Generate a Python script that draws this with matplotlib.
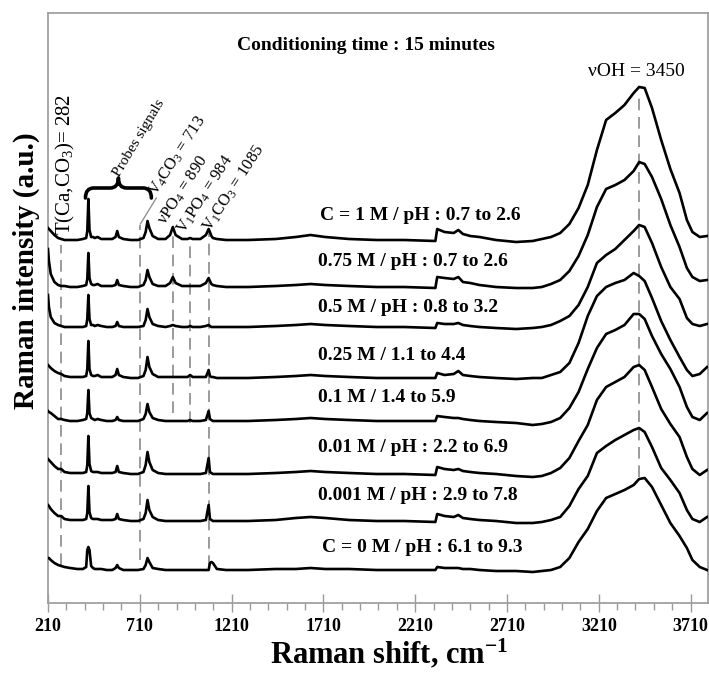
import matplotlib
matplotlib.use("Agg")
import matplotlib.pyplot as plt
from matplotlib.path import Path
from matplotlib.patches import PathPatch
from matplotlib.ticker import FixedLocator
import numpy as np

plt.rcParams['font.family'] = ['Liberation Serif', 'DejaVu Serif']
plt.rcParams['mathtext.fontset'] = 'custom'
plt.rcParams['mathtext.rm'] = 'Liberation Serif'
plt.rcParams['mathtext.it'] = 'Liberation Serif:italic'
plt.rcParams['mathtext.bf'] = 'Liberation Serif:bold'

# ---------------- data ----------------
# Raman shift sampling points (cm-1)
X_LOW = [210, 215, 225, 245, 265, 282, 300, 330, 370, 400, 418, 424, 430, 436, 445,
         455, 465, 480, 500, 530, 560, 578, 587, 596, 620, 660, 700, 730, 742, 752,
         762, 780, 810, 850, 875, 890, 905, 940, 970, 984, 998, 1040, 1070, 1085,
         1092, 1100, 1108, 1130, 1180]
X_MID = [1300, 1450, 1560, 1640, 1720, 1850, 2000, 2150, 2320, 2330, 2370, 2420,
         2445, 2470, 2510, 2560, 2650, 2760]
X_OH = [2850, 2900, 2950, 3000, 3050, 3100, 3150, 3200, 3250, 3300, 3350, 3400,
        3430, 3460, 3500, 3550, 3600, 3650, 3690, 3720, 3760, 3800]

labels = ["C = 1 M / pH : 0.7 to 2.6",
          "0.75 M / pH : 0.7 to 2.6",
          "0.5 M / pH : 0.8 to 3.2",
          "0.25 M / 1.1 to 4.4",
          "0.1 M / 1.4 to 5.9",
          "0.01 M / pH : 2.2 to 6.9",
          "0.001 M / pH : 2.9 to 7.8",
          "C = 0 M / pH : 6.1 to 9.3"]

# vertical stacking offsets of each spectrum (a.u.)
offsets = [363, 316, 276, 225, 182, 129, 82, 33]

# intensities relative to each spectrum's baseline (a.u.)
low_1 = [12, 11, 9, 5, 2, 1, 0, 0, 0, 1, 2, 9, 41, 10, 3, 3, 2, 3, 1, 1, 1, 3, 9, 3, 1, 0, 0, 2, 8, 19,
         12, 4, 1, 1, 5, 13, 5, 1, 1, 2, 1, 1, 5, 11, 8, 4, 2, 1, 0]
low_2 = [38, 26, 13, 5, 2, 1, 1, 0, 0, 1, 2, 8, 34, 9, 3, 2, 2, 3, 1, 1, 1, 2, 7, 2, 1, 0, 0, 2, 7, 17,
         10, 3, 1, 1, 4, 10, 4, 1, 1, 1, 1, 1, 4, 9, 6, 3, 2, 1, 0]
low_3 = [32, 20, 10, 4, 2, 1, 0, 0, 0, 0, 1, 8, 32, 8, 2, 2, 1, 2, 1, 0, 0, 1, 5, 1, 0, 0, 0, 1, 7, 18,
         10, 3, 1, 0, 1, 2, 1, 0, 0, 1, 0, 0, 1, 2, 1, 0, 0, 0, 0]
low_4 = [13, 12, 10, 7, 5, 4, 2, 1, 1, 1, 2, 9, 37, 9, 3, 2, 2, 3, 1, 1, 1, 3, 9, 3, 1, 0, 0, 2, 8, 21,
         11, 4, 1, 1, 1, 1, 1, 1, 1, 3, 1, 1, 1, 8, 2, 1, 1, 0, 0]
low_5 = [10, 9, 8, 5, 2, 2, 1, 0, 0, 1, 2, 8, 31, 8, 3, 2, 1, 2, 1, 0, 0, 1, 4, 1, 0, 0, 0, 2, 7, 17,
         9, 3, 1, 0, 0, 0, 0, 0, 0, 1, 0, 0, 1, 10, 2, 1, 0, 0, 0]
low_6 = [15, 14, 12, 8, 5, 5, 2, 1, 1, 1, 2, 9, 38, 10, 3, 2, 2, 2, 1, 1, 1, 2, 8, 2, 1, 0, 0, 2, 9, 22,
         12, 4, 1, 0, 0, 0, 0, 0, 0, 0, 0, 0, 1, 16, 2, 1, 0, 0, 0]
low_7 = [16, 15, 12, 8, 5, 5, 2, 1, 1, 1, 2, 8, 35, 9, 3, 2, 2, 2, 1, 1, 1, 2, 7, 2, 1, 0, 0, 2, 8, 21,
         11, 4, 1, 0, 0, 0, 0, 0, 0, 0, 0, 0, 1, 16, 2, 1, 0, 0, 0]
low_8 = [12, 12, 10, 7, 5, 4, 3, 2, 1, 1, 3, 20, 23, 20, 4, 2, 1, 1, 1, 0, 0, 2, 5, 2, 0, 0, 0, 1, 5, 12,
         8, 2, 1, 0, 0, 0, 0, 0, 0, 0, 0, 0, 0, 0, 7, 8, 7, 1, 0]

mid_1 = [0, 1, 3, 5, 3, 1, 0, 0, -1, 11, 8, 7, 10, 6, 4, 3, 0, -2]
mid_2 = [0, 1, 2, 3, 2, 1, 0, 0, -1, 10, 9, 8, 10, 5, 4, 2, 0, -1]
mid_3 = [0, 1, 2, 3, 2, 1, 0, 0, -1, 4, 3, 3, 4, 2, 1, 0, -1, -2]
mid_4 = [0, 1, 2, 3, 2, 1, 0, 0, 0, 5, 3, 4, 7, 3, 2, 1, 0, -1]
mid_5 = [0, 1, 2, 3, 2, 1, 0, 0, 0, 5, 4, 3, 3, 2, 1, 0, -1, -2]
mid_6 = [0, 1, 2, 3, 2, 1, 0, 0, -1, 7, 5, 4, 5, 3, 2, 1, 0, -2]
mid_7 = [0, 1, 3, 4, 3, 1, 0, 0, -1, 7, 5, 4, 6, 3, 2, 1, 0, -2]
mid_8 = [0, 1, 1, 2, 1, 1, 0, 0, 0, 3, 2, 2, 2, 1, 1, 0, -1, -1]

oh_1 = [-1, 1, 3, 7, 16, 32, 55, 90, 120, 127, 135, 147, 153, 152, 132, 100, 71, 47, 20, 8, 3, 4]
oh_2 = [-1, 0, 3, 7, 16, 31, 52, 80, 98, 102, 107, 116, 125, 123, 110, 88, 62, 40, 19, 10, 6, 7]
oh_3 = [-1, 0, 2, 6, 11, 22, 40, 64, 72, 78, 87, 96, 102, 100, 84, 60, 40, 28, 9, 3, 1, 3]
oh_4 = [0, 0, 3, 6, 15, 35, 62, 82, 91, 95, 98, 105, 102, 97, 80, 57, 38, 21, 8, 2, 4, 11]
oh_5 = [-4, -3, -1, 3, 13, 29, 52, 73, 87, 91, 96, 107, 107, 102, 85, 67, 52, 34, 14, 4, 1, 8]
oh_6 = [-3, -2, 1, 6, 16, 33, 49, 74, 87, 92, 97, 107, 109, 104, 87, 65, 50, 37, 17, 5, -1, 4]
oh_7 = [-2, -1, 1, 4, 15, 32, 45, 68, 75, 81, 86, 91, 93, 89, 74, 53, 41, 28, 11, 2, -1, 4]
oh_8 = [-2, -1, 0, 3, 12, 28, 41, 59, 72, 76, 80, 85, 91, 92, 83, 65, 47, 34, 22, 10, 3, 0]

low_parts = [low_1, low_2, low_3, low_4, low_5, low_6, low_7, low_8]
mid_parts = [mid_1, mid_2, mid_3, mid_4, mid_5, mid_6, mid_7, mid_8]
oh_parts = [oh_1, oh_2, oh_3, oh_4, oh_5, oh_6, oh_7, oh_8]

# band markers (cm-1) and the vertical extent of their dashed guide lines
band_x = [282, 713, 890, 984, 1085, 3428]
band_y0 = [38, 43, 190, 180, 36, 126]
band_y1 = [358, 378, 373, 360, 371, 511]

# ---------------- figure ----------------
fig = plt.figure(figsize=(7.09, 6.75), dpi=100)
ax = fig.add_axes([48 / 709, (675 - 603) / 675, (708 - 48) / 709, (603 - 13) / 675])

xs = np.array(X_LOW + X_MID + X_OH, dtype=float)
for off, lo, mi, oh in zip(offsets, low_parts, mid_parts, oh_parts):
    ys = off + np.array(lo + mi + oh, dtype=float)
    ax.plot(xs, ys, color='black', lw=1.9, solid_joinstyle='round', zorder=3)

for bx, y0, y1 in zip(band_x, band_y0, band_y1):
    ax.plot([bx, bx], [y0, y1], color='#8a8a8a', lw=1.2, ls=(0, (7, 4)), zorder=1)

# leader line for v4CO3
ax.plot([713, 800], [379, 405], color='#8a8a8a', lw=0.9, zorder=1)

# brace over probe signals
x0, x1 = 414, 773
xm = (x0 + x1) / 2
yb, ym, yt = 405, 415, 425
r = 45
verts = [(x0, yb), (x0, ym), (x0 + r, ym), (xm - r, ym), (xm, ym), (xm, yt),
         (xm, ym), (xm + r, ym), (x1 - r, ym), (x1, ym), (x1, yb)]
codes = [Path.MOVETO, Path.CURVE3, Path.CURVE3, Path.LINETO, Path.CURVE3, Path.CURVE3,
         Path.CURVE3, Path.CURVE3, Path.LINETO, Path.CURVE3, Path.CURVE3]
ax.add_patch(PathPatch(Path(verts, codes), fill=False, lw=2.6, color='black',
                       capstyle='round', joinstyle='round', zorder=3))

# annotations
ax.text(304, 368, r"T(Ca,CO$_3$)= 282", rotation=90, ha='center', va='bottom', fontsize=15)
ax.text(597, 426, "Probes signals", rotation=59, rotation_mode='anchor',
        ha='left', va='baseline', fontsize=11)
ax.text(800, 406, r"V$_4$CO$_3$ = 713", rotation=57, rotation_mode='anchor',
        ha='left', va='baseline', fontsize=12)
ax.text(850, 377, r"νPO$_4$ = 890", rotation=57, rotation_mode='anchor',
        ha='left', va='baseline', fontsize=12)
ax.text(953, 368, r"V$_1$PO$_4$ = 984", rotation=57, rotation_mode='anchor',
        ha='left', va='baseline', fontsize=12)
ax.text(1094, 370, r"V$_1$CO$_3$ = 1085", rotation=57, rotation_mode='anchor',
        ha='left', va='baseline', fontsize=12)
ax.text(3416, 531, "νOH = 3450", ha='center', va='center', fontsize=14)
ax.text(1943, 557, "Conditioning time : 15 minutes", ha='center', va='center',
        fontsize=14, fontweight='bold')

label_x = [1690, 1680, 1680, 1680, 1680, 1680, 1680, 1700]
label_y = [388, 341, 296, 248, 205, 155, 108, 56]
for t, lx, ly in zip(labels, label_x, label_y):
    ax.text(lx, ly, t, ha='left', va='center', fontsize=14, fontweight='bold')

# axes styling
ax.set_xlim(210, 3805)
ax.set_ylim(0, 590)
ax.set_yticks([])
major = list(range(210, 3711, 500))
ax.xaxis.set_major_locator(FixedLocator(major))
ax.xaxis.set_minor_locator(FixedLocator(list(range(210, 3805, 100))))
ax.set_xticklabels([str(v) for v in major], fontweight='bold', fontsize=13)
ax.tick_params(axis='x', which='major', direction='inout', length=13, width=1.0,
               color='#9a9a9a', pad=4)
ax.tick_params(axis='x', which='minor', direction='out', length=5, width=1.0, color='#9a9a9a')
for s in ax.spines.values():
    s.set_color('#a0a0a0')
    s.set_linewidth(1.3)

fig.text(389.5 / 709, 1 - 663 / 675, r"Raman shift, cm$^{\mathbf{-1}}$", ha='center',
         va='baseline', fontsize=22, fontweight='bold')
fig.text(26 / 709, 1 - 271 / 675, "Raman intensity (a.u.)", rotation=90, ha='center',
         va='center', fontsize=21, fontweight='bold')

fig.savefig("out.png", dpi=100)
